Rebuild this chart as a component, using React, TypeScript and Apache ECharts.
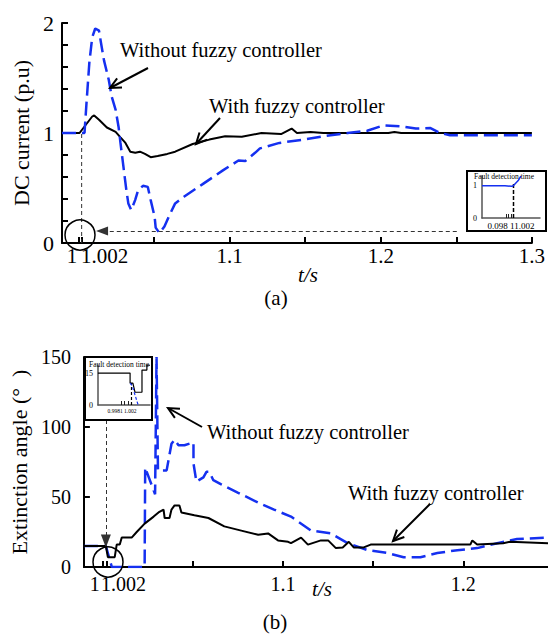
import React, { useEffect, useRef } from 'react';
import * as echarts from 'echarts';

// ---------- data ----------
const topXTicks = [1.0, 1.002, 1.05, 1.1, 1.15, 1.2, 1.25, 1.3];
const topXLabels = [1.0, 1.002, 1.1, 1.2, 1.3];
const topYTicks = [0, 0.2, 0.4, 0.6, 0.8, 1.0, 1.2, 1.4, 1.6, 1.8, 2.0];
const topYLabels = [0, 1, 2];
const botXTicks = [1.0, 1.002, 1.05, 1.1, 1.15, 1.2];
const botXLabels = [1.0, 1.002, 1.1, 1.2];
const botYTicks = [0, 50, 100, 150];
const insetTicks = [0.999, 1.0, 1.001];
const insetTopYLabels = [0, 1];
const insetBotYLabels = [0, 15];
const faultTime = 1.002;

const topWith = [
  [0.989, 1.0], [1.0006, 1.0], [1.009, 1.15], [1.0103, 1.16], [1.0135, 1.12], [1.0187, 1.05],
  [1.0245, 1.01], [1.0277, 0.96], [1.031, 0.91], [1.0342, 0.83], [1.0375, 0.82], [1.0406, 0.83],
  [1.0439, 0.81], [1.0477, 0.78], [1.0523, 0.79], [1.0587, 0.81], [1.0639, 0.83], [1.0755, 0.9],
  [1.0865, 0.94], [1.097, 0.97], [1.108, 0.965], [1.121, 1.0], [1.134, 0.99], [1.141, 1.04],
  [1.1445, 1.0], [1.1535, 1.01], [1.162, 1.0], [1.205, 1.0], [1.209, 1.01], [1.2135, 1.0], [1.3, 1.0],
];
const topWithout = [
  [0.989, 1.0], [1.0039, 1.0], [1.0052, 1.27], [1.0071, 1.64], [1.009, 1.87], [1.011, 1.95],
  [1.0135, 1.93], [1.0148, 1.82], [1.0168, 1.66], [1.02, 1.48], [1.0219, 1.33], [1.0245, 1.21],
  [1.0265, 1.05], [1.0277, 0.91], [1.0297, 0.69], [1.0316, 0.48], [1.0329, 0.36], [1.0348, 0.3],
  [1.0374, 0.39], [1.0394, 0.48], [1.0426, 0.52], [1.0458, 0.51], [1.0477, 0.39], [1.0503, 0.24],
  [1.051, 0.14], [1.0535, 0.09], [1.0568, 0.15], [1.06, 0.25], [1.0639, 0.36], [1.0697, 0.42],
  [1.0826, 0.54], [1.0955, 0.66], [1.1058, 0.75], [1.1103, 0.745], [1.1168, 0.82], [1.12, 0.86],
  [1.1329, 0.91], [1.149, 0.94], [1.1619, 0.97], [1.178, 1.0], [1.191, 1.02], [1.202, 1.07],
  [1.2135, 1.06], [1.2232, 1.04], [1.2329, 1.045], [1.2394, 1.0], [1.2458, 0.98], [1.3, 0.98],
];
const botWith = [
  [0.9895, 15], [1.0017, 15], [1.0028, 7], [1.0066, 7], [1.0077, 16], [1.0094, 16], [1.0105, 21],
  [1.016, 21], [1.0188, 25], [1.0232, 31], [1.0282, 36], [1.0309, 39], [1.0337, 41], [1.0343, 35],
  [1.037, 35], [1.0381, 41], [1.0398, 44], [1.0425, 44], [1.0436, 39], [1.0508, 37], [1.0586, 35],
  [1.0674, 29], [1.0768, 26], [1.0862, 23], [1.0917, 24], [1.0972, 19], [1.1028, 18], [1.1044, 17],
  [1.11, 21], [1.1138, 16], [1.121, 19], [1.125, 19], [1.1293, 13.5], [1.1331, 14], [1.1365, 18],
  [1.1392, 14], [1.1448, 14], [1.1486, 16], [1.2039, 16], [1.205, 19], [1.2077, 16], [1.2221, 17],
  [1.226, 18], [1.247, 17],
];
const botWithout = [
  [0.9895, 15], [1.0017, 15], [1.005, 0], [1.0232, 0], [1.0235, 71], [1.029, 52], [1.0298, 150],
  [1.0306, 69], [1.0354, 69], [1.0381, 88], [1.0398, 91], [1.042, 87], [1.0453, 87], [1.0503, 89],
  [1.0503, 74], [1.0519, 61], [1.0558, 64], [1.0575, 68], [1.0591, 68], [1.0613, 62], [1.0657, 59],
  [1.0751, 53], [1.0862, 46], [1.095, 41], [1.1044, 36], [1.1155, 26], [1.1265, 24], [1.1359, 17],
  [1.147, 12], [1.158, 10], [1.1669, 7], [1.1762, 7], [1.1856, 10], [1.1967, 12], [1.2077, 13.5],
  [1.2188, 17], [1.2298, 20], [1.247, 21],
];
const insetTopWithout = [[0.9894, 1], [0.9986, 1], [1.0014, 0.98], [1.0022, 1.02], [1.0038, 1.15], [1.005, 1.3]];
const insetBotWith = [
  [0.9924, 15], [1.0016, 15], [1.0016, 10.3], [1.0024, 10.3], [1.003, 6], [1.005, 6],
  [1.005, 16.4], [1.0064, 16.4], [1.0064, 18.7], [1.0073, 18.7],
];
const insetBotWithout = [[1.0016, 10.3], [1.0022, 9], [1.0039, 0]];

// ---------- style helpers ----------
const FONT = 'Liberation Serif, serif';
const BLUE = '#1530f0';

function labelFmt(v: number) {
  if (Math.abs(v - 1) < 1e-9) return '{l|1}';
  if (Math.abs(v - 1.002) < 1e-9) return '{r|1.002}';
  return String(Math.round(v * 1000) / 1000);
}

function mainX(grid: number, min: number, max: number, ticks: number[], labels: number[], fs: number, margin: number, padL: number, padR: number) {
  return {
    type: 'value', gridIndex: grid, min, max,
    axisLine: { onZero: false, lineStyle: { color: '#000', width: 2 } },
    axisTick: { inside: true, length: 6, customValues: ticks, lineStyle: { color: '#000', width: 2 } },
    axisLabel: {
      customValues: labels, formatter: labelFmt, margin, color: '#000', fontSize: fs, fontFamily: FONT,
      alignMaxLabel: 'center',
      rich: {
        l: { fontSize: fs, fontFamily: FONT, color: '#000', padding: [0, padR, 0, 0] },
        r: { fontSize: fs, fontFamily: FONT, color: '#000', padding: [0, 0, 0, padL] },
      },
    },
    splitLine: { show: false },
  };
}

function mainY(grid: number, min: number, max: number, ticks: number[], labels: number[], fs: number, margin: number, name: string, gap: number) {
  return {
    type: 'value', gridIndex: grid, min, max,
    name, nameLocation: 'middle', nameGap: gap,
    nameTextStyle: { fontSize: 22, fontFamily: FONT, color: '#000' },
    axisLine: { onZero: false, lineStyle: { color: '#000', width: 2 } },
    axisTick: { inside: true, length: 6, customValues: ticks, lineStyle: { color: '#000', width: 2 } },
    axisLabel: { customValues: labels, margin, color: '#000', fontSize: fs, fontFamily: FONT },
    splitLine: { show: false },
  };
}

function insetX(grid: number, min: number, max: number) {
  return {
    type: 'value', gridIndex: grid, min, max,
    axisLine: { onZero: false, lineStyle: { color: '#555', width: 1.5 } },
    axisTick: { inside: true, length: 4, customValues: insetTicks, lineStyle: { color: '#222', width: 1 } },
    axisLabel: { show: false },
    splitLine: { show: false },
  };
}
function insetY(grid: number, min: number, max: number, labels: number[]) {
  return {
    type: 'value', gridIndex: grid, min, max,
    axisLine: { onZero: false, lineStyle: { color: '#555', width: 1.5 } },
    axisTick: { show: false },
    axisLabel: { customValues: labels, margin: 5, color: '#000', fontSize: 8, fontFamily: FONT },
    splitLine: { show: false },
  };
}

function arrow(x1: number, y1: number, x2: number, y2: number) {
  const ang = Math.atan2(y2 - y1, x2 - x1);
  const L = 12, a = 0.45;
  const p1 = [x2 - L * Math.cos(ang - a), y2 - L * Math.sin(ang - a)];
  const p2 = [x2 - L * Math.cos(ang + a), y2 - L * Math.sin(ang + a)];
  return [
    { type: 'line', shape: { x1, y1, x2, y2 }, style: { stroke: '#000', lineWidth: 2 }, z: 10 },
    { type: 'polyline', shape: { points: [p1, [x2, y2], p2] }, style: { stroke: '#000', lineWidth: 2, fill: null }, z: 10 },
  ];
}
function txt(x: number, y: number, text: string, fs: number, align = 'left', italic = false) {
  return {
    type: 'text', x, y, z: 10,
    style: { text, fontSize: fs, fontFamily: FONT, fontStyle: italic ? 'italic' : 'normal', fill: '#000', align, verticalAlign: 'middle' },
  };
}

const lineSeries = (xi: number, data: number[][], color: string, width: number, type: any, z: number, extra: any = {}) => ({
  type: 'line', xAxisIndex: xi, yAxisIndex: xi, data, symbol: 'none', showSymbol: false, z,
  lineStyle: { color, width, type }, silent: true, animation: false, ...extra,
});

export default function App() {
  const ref = useRef<HTMLDivElement>(null);
  useEffect(() => {
    if (!ref.current) return;
    const chart = echarts.init(ref.current, undefined, { renderer: 'svg' });
    const guideStyle = { color: '#333', width: 1, type: [4, 3] };
    chart.setOption({
      animation: false,
      backgroundColor: '#fff',
      textStyle: { fontFamily: FONT, color: '#000' },
      grid: [
        { left: 62, top: 23, width: 483, height: 220 },
        { left: 82, top: 357, width: 466, height: 210 },
        { left: 482, top: 176, width: 58, height: 42 },
        { left: 98, top: 365, width: 52, height: 40 },
      ],
      xAxis: [
        mainX(0, 0.989, 1.3, topXTicks, topXLabels, 21, 2, 46, 13),
        mainX(1, 0.9895, 1.247, botXTicks, botXLabels, 20, 7, 34, 16),
        insetX(2, 0.9894, 1.0126),
        insetX(3, 0.99243, 1.00729),
      ],
      yAxis: [
        mainY(0, 0, 2, topYTicks, topYLabels, 22, 8, 'DC current (p.u)', 29),
        mainY(1, 0, 150, botYTicks, botYTicks, 20, 13, 'Extinction angle (°  )', 49),
        insetY(2, 0, 1.3, insetTopYLabels),
        insetY(3, 0, 18.8, insetBotYLabels),
      ],
      series: [
        // top chart
        lineSeries(0, [[faultTime, 0], [faultTime, 1]], '#333', 1, [4, 3], 1, {
          markLine: {
            silent: true, symbol: ['none', 'triangle'], symbolSize: [9, 12],
            label: { show: false }, lineStyle: guideStyle,
            data: [[{ coord: [1.2503, 0.11] }, { coord: [1.0155, 0.11] }]],
          },
        }),
        lineSeries(0, topWith, '#000', 2, 'solid', 3),
        lineSeries(0, topWithout, BLUE, 2.5, [14, 6], 4),
        // bottom chart
        lineSeries(1, botWithout, BLUE, 2.5, [14, 6], 3),
        lineSeries(1, botWith, '#000', 2, 'solid', 4, {
          markLine: {
            silent: true, symbol: ['none', 'triangle'], symbolSize: [10, 13],
            label: { show: false }, lineStyle: guideStyle,
            data: [[{ coord: [1.0017, 105] }, { coord: [1.0017, 18.6] }]],
          },
        }),
        // top inset
        lineSeries(2, insetTopWithout, BLUE, 1.5, 'solid', 4),
        lineSeries(2, [[faultTime, 0], [faultTime, 1.05]], '#000', 1.5, [4, 2], 3),
        // bottom inset
        lineSeries(3, insetBotWith, '#000', 1.2, 'solid', 3),
        lineSeries(3, insetBotWithout, BLUE, 1.2, [3, 2], 4),
        lineSeries(3, [[faultTime, 0], [faultTime, 10.3]], '#000', 1.2, [3, 2], 3),
      ],
      graphic: [
        txt(120, 50, 'Without fuzzy controller', 20.5),
        ...arrow(148, 68, 110, 88),
        txt(209, 106, 'With fuzzy controller', 20.5),
        ...arrow(220, 118, 196, 144),
        txt(308, 275, 't/s', 21, 'center', true),
        txt(276, 298, '(a)', 21, 'center'),
        { type: 'circle', shape: { cx: 80, cy: 235, r: 15 }, style: { stroke: '#000', fill: null, lineWidth: 1.5 }, z: 10 },
        { type: 'rect', shape: { x: 467, y: 171, width: 79, height: 60 }, style: { stroke: '#000', fill: null, lineWidth: 2 }, z: 10 },
        txt(504, 176, 'Fault detection time', 7.5, 'center'),
        txt(511, 226, '0.098 11.002', 9, 'center'),

        txt(207, 432, 'Without fuzzy controller', 20.5),
        ...arrow(202, 427, 168, 408),
        txt(348, 493, 'With fuzzy controller', 20.5),
        ...arrow(430, 504, 393, 541),
        txt(322, 589, 't/s', 21, 'center', true),
        txt(275, 622, '(b)', 21, 'center'),
        { type: 'circle', shape: { cx: 108, cy: 562, r: 15 }, style: { stroke: '#000', fill: null, lineWidth: 1.5 }, z: 10 },
        { type: 'rect', shape: { x: 85, y: 357, width: 67, height: 63 }, style: { stroke: '#000', fill: null, lineWidth: 2 }, z: 10 },
        txt(119, 364, 'Fault detection time', 7.5, 'center'),
        txt(122, 411, '0.9981 1.002', 5.5, 'center'),
      ],
    });
    return () => chart.dispose();
  }, []);
  return <div ref={ref} style={{ position: 'fixed', left: 0, top: 0, width: 548, height: 636 }} />;
}
